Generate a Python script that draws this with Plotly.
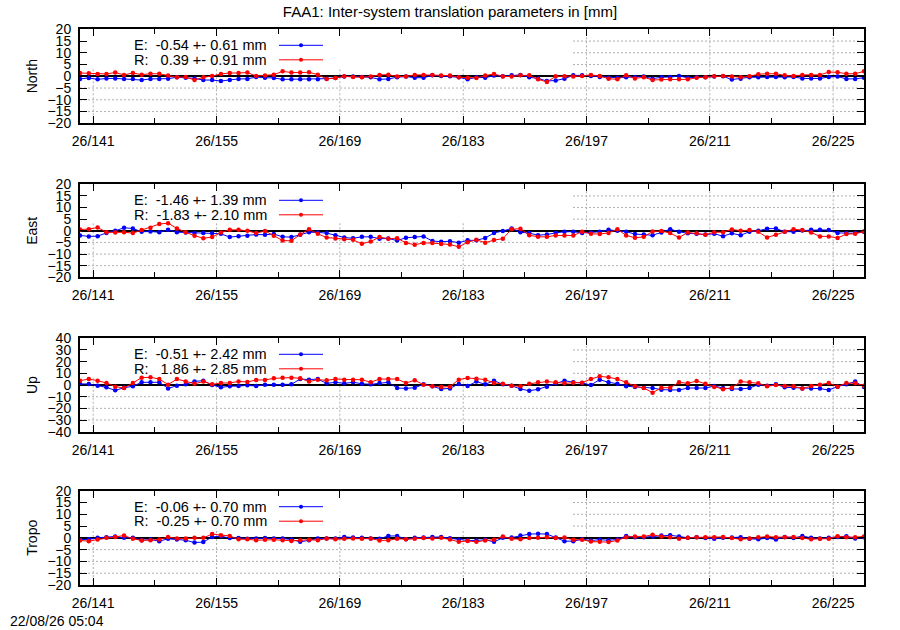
import plotly.graph_objects as go

# day of year 2026, one solution per day (plotted at noon)
doy = list(range(139, 229))
x = [d + 0.5 for d in doy]

north_e = [-1.1, -0.7, -1.3, -0.9, -0.9, -1.1, -1.1, -1.6, -1.1, -1.1,
           -1.0, -0.4, -0.6, -0.9, -1.6, -1.6, -2.0, -1.6, -1.1, -1.1,
           -0.3, -0.6, -0.7, -1.3, -1.3, -1.3, -1.3, -1.3, -1.0, -0.7,
           -0.1, -0.1, -0.3, -0.4, -1.3, -1.1, -0.4, -0.1, -0.6, -0.6,
           0.4, 0.1, 0.0, -0.4, -1.3, -0.4, -0.6, 0.3, 0.0, 0.4,
           0.6, -0.4, -0.9, -2.0, -1.8, -1.0, 0.4, 0.4, 0.1, -0.3,
           -0.6, -0.6, -0.4, -0.4, -0.1, -1.0, -0.4, -0.3, 0.1, -0.6,
           -0.4, -0.4, -0.1, 0.0, -1.4, -1.0, -0.4, -0.4, -0.3, -0.3,
           -0.4, -0.3, -0.9, -0.9, -0.9, -0.3, -0.1, -1.1, -1.1, -0.6]
north_r = [1.4, 1.3, 1.0, 1.0, 1.6, 0.6, 1.4, 0.7, 1.1, 1.1,
           0.3, -0.4, -0.3, -1.6, -0.4, 0.1, 1.0, 1.4, 1.4, 1.6,
           0.1, 0.3, 0.7, 2.1, 1.6, 1.6, 1.7, 0.7, -1.1, -0.7,
           0.0, -0.3, -0.4, -0.1, 0.6, 0.7, -0.1, -0.1, 0.6, 0.6,
           0.6, 0.3, 0.3, -0.4, -0.6, -0.7, 0.3, 1.0, -0.1, -0.1,
           0.4, 0.4, -1.3, -2.4, 0.0, 0.0, -0.1, 0.1, 0.6, 0.1,
           -1.0, -1.3, 0.4, -0.9, -0.4, -1.6, -1.4, -1.3, -1.3, -1.3,
           -0.6, -0.4, 0.0, 0.1, -0.1, -0.4, 0.0, 0.9, 1.1, 1.1,
           0.4, 0.1, 0.6, 0.6, 0.6, 1.8, 1.7, 1.1, 1.1, 2.1]

east_e = [-2.0, -2.4, -2.3, -0.9, 0.0, 1.3, 1.0, -0.4, -0.3, -0.6,
          0.4, -0.6, -0.7, -1.0, -1.0, -1.1, -1.3, -2.7, -2.3, -2.1,
          -1.6, -1.7, -1.4, -2.6, -2.7, -1.7, -0.6, -0.7, -1.0, -1.9,
          -2.9, -3.2, -2.6, -2.6, -3.4, -3.3, -4.2, -3.0, -2.7, -2.4,
          -4.4, -4.7, -4.5, -5.1, -4.1, -4.1, -3.1, -0.9, -0.1, 1.0,
          -0.6, -1.0, -1.9, -1.6, -0.9, -0.4, -0.4, -0.9, -0.7, -0.4,
          0.4, 0.0, -0.4, -1.4, -1.6, -1.9, -0.7, 0.7, -0.4, -1.1,
          -1.3, -1.6, -1.3, -2.3, -1.1, -1.9, -0.4, 0.0, 0.9, 1.0,
          -0.4, -0.4, 0.1, 0.4, 0.4, 0.3, -0.9, -1.0, -1.0, -0.4]
east_r = [0.6, 0.7, 1.4, -0.6, -0.7, -0.6, -1.0, 0.3, 1.3, 2.9,
          3.3, 1.0, -0.6, -2.1, -3.2, -2.7, -0.7, 0.4, 0.4, 0.0,
          -1.0, -0.1, -2.1, -4.2, -4.3, -1.6, 0.7, -1.3, -2.9, -3.3,
          -3.6, -3.9, -5.6, -4.6, -2.7, -3.4, -3.2, -5.2, -6.0, -5.2,
          -5.3, -5.7, -5.9, -6.9, -4.9, -3.9, -5.1, -4.0, -3.4, 0.7,
          0.9, -1.9, -2.6, -2.6, -2.0, -2.0, -2.0, -0.4, -1.3, -1.4,
          -0.9, 0.7, -2.0, -3.0, -2.6, -0.3, -0.1, -1.0, -2.9, -0.7,
          -1.1, -1.7, -0.6, -0.6, 0.6, 0.0, 0.3, -0.4, -2.9, -1.7,
          -0.4, 0.7, 0.3, -0.7, -2.4, -2.4, -3.1, -1.4, -1.3, -0.3]

up_e = [0.9, 0.9, -0.6, -2.0, -4.6, -2.3, -1.1, 2.3, 2.3, 2.3,
        -2.9, -0.6, 0.6, 3.1, 3.7, 0.0, -2.0, -1.1, -0.9, -0.3,
        -0.9, 0.3, 0.3, 0.3, 0.6, 5.1, 4.6, 5.1, 1.4, 2.3,
        1.4, 2.3, 1.1, 0.6, 1.7, 2.3, -2.6, -2.9, -2.3, 0.6,
        -1.1, -3.4, -2.9, 0.9, -0.9, 2.9, 0.6, 3.7, 0.6, -0.6,
        -3.4, -4.9, -3.7, -1.4, 1.4, 3.7, 2.3, 1.7, 0.0, 4.6,
        2.3, 1.1, -1.1, -1.7, -2.3, -2.6, -4.0, -4.3, -4.3, -2.6,
        -2.6, -2.6, -0.9, -2.6, -3.4, -3.4, -2.6, 0.3, -0.6, 0.6,
        -2.0, -2.3, -2.9, -3.1, -3.1, -4.3, -1.4, 0.6, 2.9, -1.7]
up_r = [3.7, 5.1, 3.7, 1.7, -1.4, -2.6, 1.7, 6.3, 6.6, 5.1,
        0.3, 5.1, 3.1, 1.1, 2.9, 0.6, 1.7, 1.7, 3.1, 2.6,
        4.3, 4.3, 5.7, 6.3, 6.3, 5.7, 2.9, 4.6, 4.0, 5.1,
        4.6, 4.6, 4.6, 2.3, 5.1, 5.1, 5.1, 1.7, 4.0, 0.3,
        -1.1, -1.7, -1.4, 4.6, 6.0, 5.4, 4.6, 1.7, 1.1, -0.6,
        -1.1, 1.1, 2.3, 2.9, 2.3, 1.4, 2.0, 2.0, 5.1, 7.4,
        6.6, 5.1, 2.3, -1.1, -2.6, -6.6, -2.3, -2.3, 2.3, 1.4,
        3.4, 1.1, -1.7, -3.7, -2.3, 2.9, 2.3, 1.4, -1.1, 0.0,
        -0.9, -1.1, -3.1, -0.9, 0.3, 1.7, -1.4, 1.7, 1.4, -0.6]

tropo_e = [-0.8, -0.6, 0.0, 0.3, 0.6, 0.0, 0.0, -1.0, -0.7, -1.4,
           -0.4, -0.7, -1.0, -2.0, -1.8, 0.4, 0.7, -0.1, -0.1, -0.4,
           -0.3, -0.1, -0.3, -0.3, -0.7, -1.7, -1.0, -0.3, -0.3, -0.3,
           0.4, 0.1, 0.0, -0.3, -0.4, 0.8, 0.8, -0.6, 0.0, 0.1,
           0.4, 0.4, -0.2, -0.8, -1.1, -1.1, -0.8, -1.7, 0.0, 0.1,
           1.0, 1.6, 1.7, 1.6, 0.1, -1.4, -1.4, -0.6, -1.1, -0.8,
           -1.0, -0.7, 0.8, 0.3, 0.3, 0.6, 1.0, 1.1, 0.6, 0.0,
           0.3, -0.1, -0.4, 0.0, 0.1, 0.3, -0.4, -0.6, -0.1, -0.7,
           0.4, -0.1, 0.8, 0.0, -0.3, 0.0, 0.4, 0.7, -0.3, 0.3]
tropo_r = [-1.1, -1.4, -0.7, 0.0, 0.4, 1.0, -0.4, -1.1, -1.0, -0.7,
           0.4, -0.3, -0.3, 0.0, 0.0, 1.6, 1.1, 0.8, -0.6, -0.6,
           -1.0, -0.8, -0.8, -1.0, -1.3, -1.0, -0.8, -1.0, -0.3, -0.6,
           -0.4, -0.3, -0.4, -0.3, -1.1, -1.0, -0.4, -0.6, -0.4, -0.1,
           -0.3, 0.0, -0.7, -1.7, -1.3, -1.7, -1.1, -0.8, 0.6, -0.4,
           -0.6, -0.1, 0.0, 0.3, -0.1, 0.1, -0.8, -0.8, -1.6, -1.7,
           -1.8, -1.1, 0.3, 0.6, 0.6, 1.3, 0.6, 0.3, -0.4, 0.0,
           0.3, 0.3, 0.3, 0.4, -0.1, -0.6, -0.3, 0.3, 0.6, 0.3,
           0.3, 0.4, -0.1, -0.6, -0.4, -0.4, 0.7, 0.3, 0.3, 0.6]

names = ["North", "East", "Up", "Tropo"]
series_e = [north_e, east_e, up_e, tropo_e]
series_r = [north_r, east_r, up_r, tropo_r]
yranges = [20, 20, 40, 20]
ysteps = [5, 5, 10, 5]
xticks = [141, 155, 169, 183, 197, 211, 225]
# mean and rms printed in the key
stats_e = [(-0.54, 0.61), (-1.46, 1.39), (-0.51, 2.42), (-0.06, 0.70)]
stats_r = [(0.39, 0.91), (-1.83, 2.10), (1.86, 2.85), (-0.25, 0.70)]

title = "FAA1: Inter-system translation parameters in [mm]"
stamp = "22/08/26 05:04"

BLUE = "#0000ff"
RED = "#ff0000"
GRID = "#b0b0b0"
FONT = "Liberation Sans"

# page layout in pixels
W, H = 900, 630
PL, PR, PT, PB = 80, 864, 29, 585           # plot area
panel_px = [(29.3, 123.3), (184.3, 277.3), (338.3, 431.7), (490.7, 585.0)]
KEY_RIGHT = 573                             # opaque key box edge
KEY_H = 38


def py(p):
    return (PB - p) / (PB - PT)


def px(p):
    return (p - PL) / (PR - PL)


fig = go.Figure()
layout = dict(
    width=W, height=H,
    margin=dict(l=PL, r=W - PR, t=PT, b=H - PB),
    paper_bgcolor="white", plot_bgcolor="white",
    showlegend=False,
    font=dict(family=FONT, size=14, color="black"),
    title=dict(text=title, x=450 / W, xref="container", xanchor="center",
               y=1 - 12 / H, yref="container", yanchor="middle",
               font=dict(family=FONT, size=15, color="black")),
)
annotations = []
shapes = []
gline = dict(color=GRID, width=1, dash="2px,2px")

for k, name in enumerate(names):
    xa = "x" if k == 0 else f"x{k + 1}"
    ya = "y" if k == 0 else f"y{k + 1}"
    top, bot = panel_px[k]
    lim, step = yranges[k], ysteps[k]
    key_bot = 1 - KEY_H / (bot - top)

    fig.add_trace(go.Scatter(x=x, y=series_e[k], mode="lines+markers", xaxis=xa, yaxis=ya,
                             line=dict(color=BLUE, width=1), marker=dict(color=BLUE, size=4.5)))
    fig.add_trace(go.Scatter(x=x, y=series_r[k], mode="lines+markers", xaxis=xa, yaxis=ya,
                             line=dict(color=RED, width=1), marker=dict(color=RED, size=4.5)))

    layout["xaxis" if k == 0 else f"xaxis{k + 1}"] = dict(
        anchor=ya, domain=[0, 1], range=[x[0], x[-1]],
        tickmode="array", tickvals=xticks, ticktext=[f"26/{d}" for d in xticks],
        ticks="inside", ticklen=7, tickcolor="black", tickwidth=1,
        minor=dict(tickmode="linear", tick0=xticks[0], dtick=7, ticks="inside",
                   ticklen=5, tickcolor="black", showgrid=False),
        showline=True, linecolor="black", linewidth=2, mirror="allticks",
        showgrid=False, zeroline=False, tickfont=dict(size=14), ticklabelstandoff=4,
    )
    layout["yaxis" if k == 0 else f"yaxis{k + 1}"] = dict(
        anchor=xa, domain=[py(bot), py(top)], range=[-lim, lim],
        tickmode="linear", tick0=-lim, dtick=step,
        ticks="inside", ticklen=7, tickcolor="black", tickwidth=1,
        showline=True, linecolor="black", linewidth=2, mirror="allticks",
        showgrid=False, zeroline=True, zerolinecolor="black", zerolinewidth=1.8,
        tickfont=dict(size=14), ticklabelstandoff=4,
    )

    # dotted grid, hidden behind the opaque key box in the upper left
    for v in range(-lim + step, lim, step):
        frac = (v + lim) / (2 * lim)
        x0 = px(KEY_RIGHT) if frac > key_bot else 0
        shapes.append(dict(type="line", xref=f"{xa} domain", yref=ya, x0=x0, x1=1,
                           y0=v, y1=v, line=gline, layer="below"))
    for d in xticks:
        y1 = key_bot if (d - x[0]) / (x[-1] - x[0]) < px(KEY_RIGHT) else 1
        shapes.append(dict(type="line", xref=xa, yref=f"{ya} domain", x0=d, x1=d,
                           y0=0, y1=y1, line=gline, layer="below"))

    annotations.append(dict(text=name, xref="paper", yref="paper", x=px(32),
                            y=py((top + bot) / 2), textangle=-90, showarrow=False,
                            xanchor="center", yanchor="middle", font=dict(size=14)))

    for j, (lab, (m, s), col) in enumerate([("E", stats_e[k], BLUE), ("R", stats_r[k], RED)]):
        yy = top + 16 + 14.5 * j
        txt = f"{lab}:  {m:5.2f} +- {s:4.2f} mm".replace(" ", "\u00a0")
        annotations.append(dict(text=txt, xref="paper", yref="paper", x=px(269), y=py(yy),
                                xanchor="right", yanchor="middle", showarrow=False,
                                font=dict(size=14.5)))
        shapes.append(dict(type="line", xref="paper", yref="paper", x0=px(279), x1=px(323),
                           y0=py(yy), y1=py(yy), line=dict(color=col, width=1)))
        shapes.append(dict(type="circle", xref="paper", yref="paper",
                           x0=px(299), x1=px(303), y0=py(yy + 2), y1=py(yy - 2),
                           fillcolor=col, line=dict(color=col, width=0)))

annotations.append(dict(text=stamp, xref="paper", yref="paper", x=px(8), y=py(621),
                        xanchor="left", yanchor="middle", showarrow=False, font=dict(size=14)))

layout["annotations"] = annotations
layout["shapes"] = shapes
fig.update_layout(**layout)

# drop the default 8px body margin so the 900x630 figure fills the window
fig.write_html("out.html", config={"displayModeBar": False},
               post_script="document.body.style.margin='0';document.body.style.overflow='hidden';")
